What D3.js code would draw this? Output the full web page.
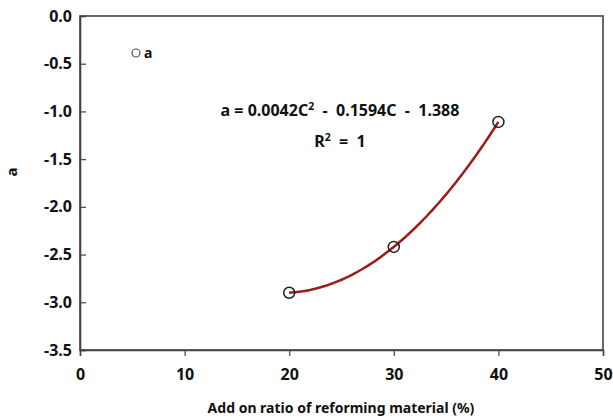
<!DOCTYPE html>
<html>
<head>
<meta charset="utf-8">
<script src="https://cdn.jsdelivr.net/npm/d3@7"></script>
<style>
  html, body { margin: 0; padding: 0; background: #fff; }
  svg { display: block; }
  text { font-family: "Noto Sans", "Open Sans", sans-serif; fill: #111; white-space: pre; }
</style>
</head>
<body>
<svg id="chart" width="613" height="419"></svg>
<script>
// Additive ratio (%) and fitted coefficient a
const ratio = [20, 30, 40];
const aValues = [-2.90, -2.42, -1.11];
const xTicks = [0, 10, 20, 30, 40, 50];
const yTicks = [0, -0.5, -1.0, -1.5, -2.0, -2.5, -3.0, -3.5];
const seriesName = "a";
const equationText = ["a = 0.0042C", "2", "  -  0.1594C  -  1.388"];
const xTitle = "Add on ratio of reforming material (%)";
const yTitle = "a";

const svg = d3.select("#chart");
const m = { left: 80, right: 603, top: 16, bottom: 350 };

const x = d3.scaleLinear().domain([0, 50]).range([m.left, m.right]);
const y = d3.scaleLinear().domain([-3.5, 0]).range([m.bottom, m.top]);

// plain hyphen for negative tick labels
const fmt1 = d => d3.format(".1f")(d).replace("\u2212", "-");

// plot frame
svg.append("rect")
  .attr("x", m.left).attr("y", m.top)
  .attr("width", m.right - m.left).attr("height", m.bottom - m.top)
  .attr("fill", "none").attr("stroke", "#444").attr("stroke-width", 1.6);

// x axis (ticks outside)
const gx = svg.append("g").attr("transform", `translate(0,${m.bottom})`)
  .call(d3.axisBottom(x).tickValues(xTicks).tickSize(6).tickPadding(13).tickFormat(d3.format("d")));
gx.select(".domain").attr("stroke", "#444").attr("stroke-width", 1.6);
gx.selectAll(".tick line").attr("stroke", "#444").attr("stroke-width", 1.2);
gx.selectAll(".tick text").attr("font-size", 16).attr("font-weight", "bold")
  .style("font-family", "'Noto Sans', sans-serif").attr("fill", "#111");

// y axis (ticks inside)
const gy = svg.append("g").attr("transform", `translate(${m.left},0)`)
  .call(d3.axisLeft(y).tickValues(yTicks).tickSize(-6).tickPadding(8).tickFormat(fmt1));
gy.select(".domain").attr("stroke", "#444").attr("stroke-width", 1.6);
gy.selectAll(".tick line").attr("stroke", "#444").attr("stroke-width", 1.2);
gy.selectAll(".tick text").attr("font-size", 16).attr("font-weight", "bold")
  .attr("x", -8)
  .style("font-family", "'Noto Sans', sans-serif").attr("fill", "#111");

// quadratic trendline through the three points (Lagrange form)
function quad(c) {
  let s = 0;
  for (let i = 0; i < ratio.length; i++) {
    let t = aValues[i];
    for (let j = 0; j < ratio.length; j++) {
      if (j !== i) t *= (c - ratio[j]) / (ratio[i] - ratio[j]);
    }
    s += t;
  }
  return s;
}
const cs = d3.range(ratio[0], ratio[ratio.length - 1] + 0.001, 0.25);
svg.append("path")
  .attr("d", d3.line().x(c => x(c)).y(c => y(quad(c)))(cs))
  .attr("fill", "none").attr("stroke", "#9c1b1b").attr("stroke-width", 2.5);

// data points
svg.selectAll("circle.pt").data(ratio).join("circle")
  .attr("class", "pt")
  .attr("cx", (d) => x(d)).attr("cy", (d, i) => y(aValues[i]))
  .attr("r", 5.5).attr("fill", "none").attr("stroke", "#222").attr("stroke-width", 1.5);

// legend
svg.append("circle").attr("cx", 136).attr("cy", 53).attr("r", 4)
  .attr("fill", "none").attr("stroke", "#555").attr("stroke-width", 1.2);
svg.append("text").attr("x", 144).attr("y", 58).attr("font-size", 14).attr("font-weight", "bold").text(seriesName);

// equation
const eq = svg.append("text").attr("x", 340).attr("y", 116).attr("text-anchor", "middle")
  .attr("font-size", 16).attr("font-weight", "bold");
eq.append("tspan").text(equationText[0]);
eq.append("tspan").attr("dy", -6).attr("font-size", 10.5).text(equationText[1]);
eq.append("tspan").attr("dy", 6).text(equationText[2]);

const r2 = svg.append("text").attr("x", 340).attr("y", 147).attr("text-anchor", "middle")
  .attr("font-size", 16).attr("font-weight", "bold");
r2.append("tspan").text("R");
r2.append("tspan").attr("dy", -6).attr("font-size", 10.5).text("2");
r2.append("tspan").attr("dy", 6).text("  =  1");

// axis titles
svg.append("text").attr("x", 341).attr("y", 413).attr("text-anchor", "middle")
  .attr("font-size", 14).attr("font-weight", "bold").text(xTitle);
svg.append("text").attr("transform", "translate(17,172) rotate(-90)")
  .attr("text-anchor", "middle").attr("font-size", 15).attr("font-weight", "bold").text(yTitle);
</script>
</body>
</html>
